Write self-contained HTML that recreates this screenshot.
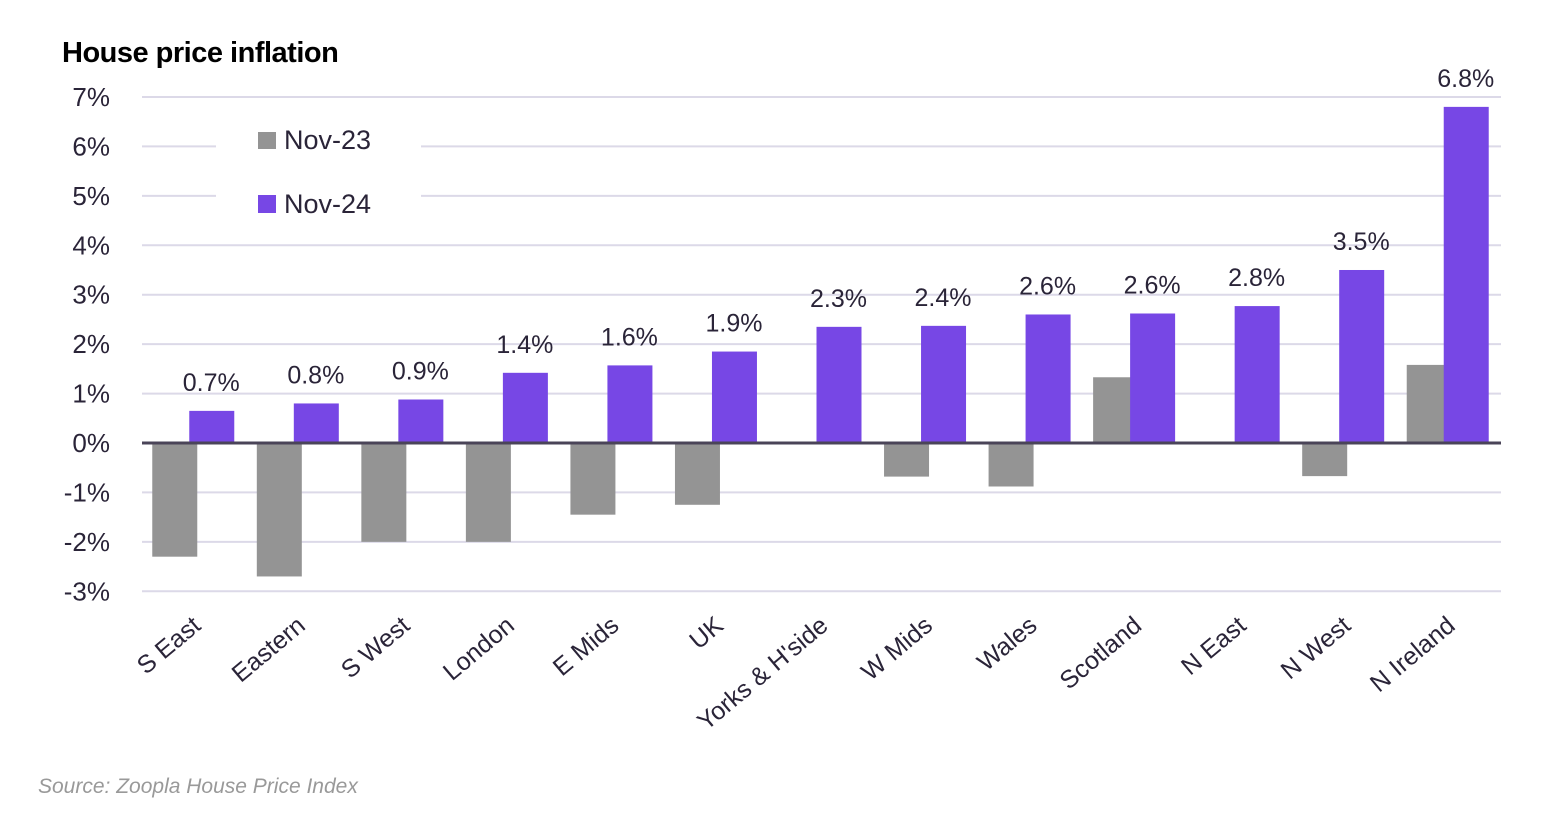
<!DOCTYPE html>
<html><head><meta charset="utf-8"><style>
html,body{margin:0;padding:0;background:#fff;}
svg{display:block;font-family:"Liberation Sans",sans-serif;}
</style></head><body>
<svg id="chart" width="1548" height="822" viewBox="0 0 1548 822" xmlns="http://www.w3.org/2000/svg">
<text x="62" y="62" font-size="29" font-weight="bold" fill="#000" letter-spacing="-0.5">House price inflation</text>
<g id="grid"></g><g id="bars"></g><g id="labels"></g>
<rect x="216" y="112" width="205" height="115" fill="#fff"/>
<g><rect x="258" y="132" width="18" height="17" fill="#949494"/><text x="284" y="149" font-size="27" fill="#2a2438">Nov-23</text></g>
<g><rect x="258" y="195" width="18" height="18" fill="#7747e5"/><text x="284" y="213" font-size="27" fill="#2a2438">Nov-24</text></g>
<text x="38" y="793" font-size="21" font-style="italic" fill="#999">Source:  Zoopla House Price Index</text>
</svg>
<script>
const categories=["S East","Eastern","S West","London","E Mids","UK","Yorks & H'side","W Mids","Wales","Scotland","N East","N West","N Ireland"];
const nov23=[-2.3,-2.7,-2.0,-2.0,-1.45,-1.25,0,-0.68,-0.88,1.33,0,-0.67,1.58];
const nov24=[0.65,0.8,0.88,1.42,1.57,1.85,2.35,2.37,2.6,2.62,2.77,3.5,6.8];
const nov24Labels=["0.7%","0.8%","0.9%","1.4%","1.6%","1.9%","2.3%","2.4%","2.6%","2.6%","2.8%","3.5%","6.8%"];
const yTicks=[7,6,5,4,3,2,1,0,-1,-2,-3];
const NS="http://www.w3.org/2000/svg";
const x0=142,x1=1501,y0=443,unit=49.43;
const step=(x1-x0)/categories.length;
const y=v=>y0-v*unit;
const cx=i=>x0+step*(i+0.5);
function mk(tag,attrs,parent){const e=document.createElementNS(NS,tag);for(const k in attrs)e.setAttribute(k,attrs[k]);parent.appendChild(e);return e;}
const grid=document.getElementById('grid'),bars=document.getElementById('bars'),labels=document.getElementById('labels');
yTicks.forEach(t=>{
  const l=mk('line',{x1:x0,x2:x1,y1:y(t),y2:y(t),stroke:t===0?'#4a4458':'#dcd9e8','stroke-width':t===0?3:2},t===0?labels:grid);
  
  
  const tx=mk('text',{x:110,y:y(t)+9,'text-anchor':'end','font-size':26,fill:'#2a2438'},grid);
  
  
  tx.textContent=t+'%';
});
categories.forEach((c,i)=>{
  const g=nov23[i];
  if(g!==0){
    const r=mk('rect',{x:cx(i)-42,width:45,y:Math.min(y(g),y0),height:Math.abs(y(g)-y0),fill:'#949494'},bars);
    
    
  }
  const p=nov24[i];
  const r2=mk('rect',{x:cx(i)-5,width:45,y:Math.min(y(p),y0),height:Math.abs(y(p)-y0),fill:'#7747e5'},bars);
  
  
  const v=mk('text',{x:cx(i)+17,y:y(p)-20,'text-anchor':'middle','font-size':25,fill:'#2a2438'},labels);
  
  
  v.textContent=nov24Labels[i];
  const lx=cx(i)+8,ly=628;
  const xl=mk('text',{x:lx,y:ly,'text-anchor':'end','font-size':25,fill:'#2a2438',transform:`rotate(-40 ${lx} ${ly})`},labels);
  
  
  xl.textContent=c;
});
</script>
</body></html>
